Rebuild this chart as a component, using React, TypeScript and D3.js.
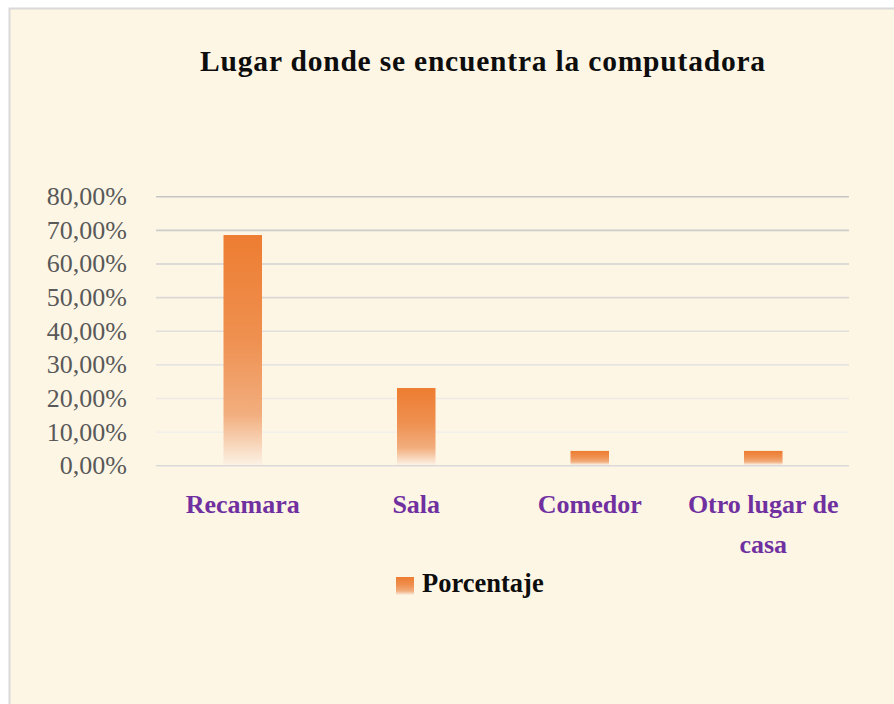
import React from "react";
import * as d3 from "d3";

const title = "Lugar donde se encuentra la computadora";
const categories = ["Recamara", "Sala", "Comedor", "Otro lugar de casa"];
const values = [0.686, 0.231, 0.044, 0.044];
const yTicks = [0, 0.1, 0.2, 0.3, 0.4, 0.5, 0.6, 0.7, 0.8];
const seriesName = "Porcentaje";

const W = 894;
const H = 704;
const FONT = "'Liberation Serif', 'Times New Roman', serif";

function wrap(label: string, maxChars: number): string[] {
  const words = label.split(" ");
  const lines: string[] = [];
  let cur = "";
  for (const w of words) {
    const t = cur ? cur + " " + w : w;
    if (t.length > maxChars && cur) {
      lines.push(cur);
      cur = w;
    } else cur = t;
  }
  if (cur) lines.push(cur);
  return lines;
}

export default function App() {
  const y = d3.scaleLinear().domain([0, 0.8]).range([465.7, 196.7]);
  const x = d3
    .scaleBand<string>()
    .domain(categories)
    .range([156, 850])
    .paddingInner(0.778)
    .paddingOuter(0.389);
  const fmt = (v: number) => (v * 100).toFixed(2).replace(".", ",") + "%";
  const gridColor = d3.interpolateRgb("#C6C6C6", "#F3F0EA");

  return (
    <svg
      width={W}
      height={H}
      style={{ position: "absolute", left: 0, top: 0 }}
      fontFamily={FONT}
    >
      <defs>
        <linearGradient id="barGrad" x1="0" y1="0" x2="0" y2="1">
          <stop offset="0" stopColor="#ED7D31" />
          <stop offset="0.45" stopColor="#EF9050" />
          <stop offset="0.78" stopColor="#F2AE7E" />
          <stop offset="1" stopColor="#FCF1E4" />
        </linearGradient>
      </defs>
      <rect x={0} y={0} width={W} height={H} fill="#FFFFFF" />
      <rect
        x={9.5}
        y={8.5}
        width={W + 20}
        height={H + 20}
        fill="#FEF6E5"
        stroke="#D9D9D9"
        strokeWidth={2}
      />
      <text
        x={483}
        y={71}
        textAnchor="middle"
        fontSize={29.5}
        fontWeight="bold"
        letterSpacing={0.8}
        fill="#0D0D0D"
      >
        {title}
      </text>
      {yTicks.map((t, i) => (
        <g key={i}>
          <line
            x1={156}
            x2={849}
            y1={y(t)}
            y2={y(t)}
            stroke={t === 0 ? "#D9D9D9" : gridColor((0.8 - t) / 0.7)}
            strokeWidth={1.6}
          />
          <text
            x={127}
            y={y(t) + 8.5}
            textAnchor="end"
            fontSize={26}
            fill="#595959"
          >
            {fmt(t)}
          </text>
        </g>
      ))}
      {categories.map((c, i) => (
        <rect
          key={c}
          x={x(c)}
          y={y(values[i])}
          width={x.bandwidth()}
          height={y(0) - y(values[i]) - 0.8}
          fill="url(#barGrad)"
        />
      ))}
      {categories.map((c) => {
        const cx = (x(c) as number) + x.bandwidth() / 2;
        return (
          <text
            key={c}
            x={cx}
            y={513}
            textAnchor="middle"
            fontSize={26}
            fontWeight="bold"
            fill="#7030A0"
          >
            {wrap(c, 14).map((line, j) => (
              <tspan key={j} x={cx} dy={j === 0 ? 0 : 39.5}>
                {line}
              </tspan>
            ))}
          </text>
        );
      })}
      <rect x={396} y={577} width={18} height={18} fill="url(#barGrad)" />
      <text x={422} y={592} fontSize={26.5} fontWeight="bold" fill="#0D0D0D">
        {seriesName}
      </text>
    </svg>
  );
}
